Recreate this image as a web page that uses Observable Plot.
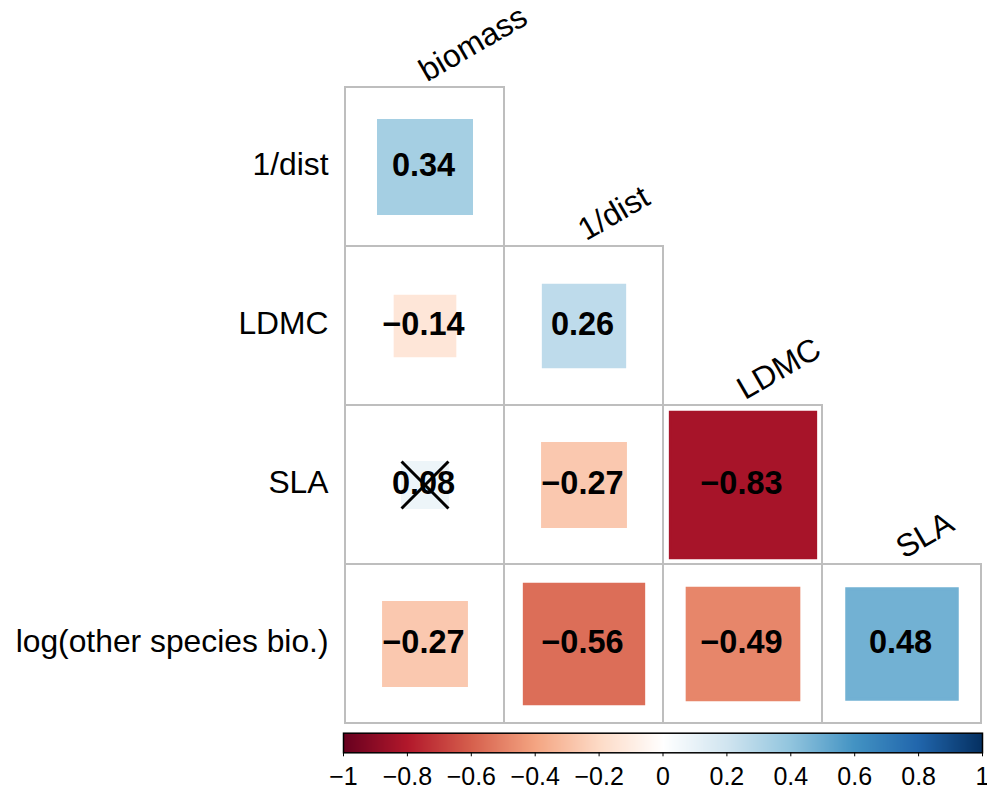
<!DOCTYPE html>
<html>
<head>
<meta charset="utf-8">
<script src="https://cdn.jsdelivr.net/npm/d3@7"></script>
<script src="https://cdn.jsdelivr.net/npm/@observablehq/plot@0.6"></script>
<style>
  html, body { margin: 0; padding: 0; background: white; }
  svg { display: block; }
</style>
</head>
<body>
<div id="chart"></div>
<script>
// ---- data ----
const rowVars = ["1/dist", "LDMC", "SLA", "log(other species bio.)"];
const colVars = ["biomass", "1/dist", "LDMC", "SLA"];
// lower-triangle correlations, one array per row
const corr1dist = [0.34];
const corrLDMC = [-0.14, 0.26];
const corrSLA = [0.08, -0.27, -0.83];
const corrLogOther = [-0.27, -0.56, -0.49, 0.48];
// non-significant flags (crossed out)
const insig1dist = [false];
const insigLDMC = [false, false];
const insigSLA = [true, false, false];
const insigLogOther = [false, false, false, false];

const colorStops = [-1, -0.8, -0.6, -0.4, -0.2, 0, 0.2, 0.4, 0.6, 0.8, 1];
const colorHex = ["#67001F", "#B2182B", "#D6604D", "#F4A582", "#FDDBC7", "#FFFFFF",
                  "#D1E5F0", "#92C5DE", "#4393C3", "#2166AC", "#053061"];
const barTicks = [-1, -0.8, -0.6, -0.4, -0.2, 0, 0.2, 0.4, 0.6, 0.8, 1];
const barTickLabels = ["\u22121", "\u22120.8", "\u22120.6", "\u22120.4", "\u22120.2", "0",
                       "0.2", "0.4", "0.6", "0.8", "1"];

// ---- build table ----
const corrRows = [corr1dist, corrLDMC, corrSLA, corrLogOther];
const insigRows = [insig1dist, insigLDMC, insigSLA, insigLogOther];
const cells = [];
corrRows.forEach((vals, i) => vals.forEach((v, j) => {
  cells.push({row: rowVars[i], col: colVars[j], value: v, insig: insigRows[i][j]});
}));
const colLabels = colVars.map((c, j) => ({col: c, row: rowVars[j], label: c}));

const fmt = v => (v < 0 ? "\u2212" : "") + Math.abs(v).toFixed(2);

// ---- layout ----
const W = 987;
const mainH = 730;
const mTop = 85.5, mBottom = 6.5, mLeft = 343, mRight = 5;
const cellSize = (mainH - mTop - mBottom) / rowVars.length;
const font = "'Liberation Sans', Arial, Helvetica, sans-serif";

const colorScale = {type: "linear", domain: colorStops, range: colorHex, interpolate: "rgb"};

const main = Plot.plot({
  width: W,
  height: mainH,
  marginTop: mTop,
  marginBottom: mBottom,
  marginLeft: mLeft,
  marginRight: mRight,
  x: {type: "band", domain: colVars, padding: 0, axis: null},
  y: {type: "band", domain: rowVars, padding: 0},
  r: {type: "sqrt", domain: [0, 1], range: [0, cellSize / Math.sqrt(Math.PI)]},
  color: colorScale,
  style: {fontFamily: font, background: "white", color: "black"},
  marks: [
    Plot.cell(cells, {x: "col", y: "row", fill: "none", stroke: "#BEBEBE", strokeWidth: 2}),
    Plot.dot(cells, {x: "col", y: "row", r: d => Math.abs(d.value), symbol: "square",
                     fill: "value", stroke: "value", strokeWidth: 3}),
    Plot.text(cells, {x: "col", y: "row", text: d => fmt(d.value), fontWeight: "bold",
                      fontSize: 32.5, fill: "black", dx: -1.5, dy: -1}),
    Plot.dot(cells.filter(d => d.insig), {x: "col", y: "row", symbol: "times", r: 21.4,
                                          stroke: "black", strokeWidth: 3}),
    Plot.axisY({tickSize: 0, tickPadding: 15, fontSize: 31.8, dy: -2, label: null}),
    Plot.text(colLabels, {x: "col", y: "row", text: "label", rotate: -30, textAnchor: "start",
                          lineAnchor: "bottom", fontSize: 31.8, fill: "black",
                          dx: 2, dy: -cellSize / 2 - 5})
  ]
});

const bar = Plot.plot({
  width: W,
  height: 63,
  marginTop: 2.7,
  marginBottom: 40.7,
  marginLeft: mLeft,
  marginRight: mRight,
  x: {domain: [-1, 1]},
  y: {domain: [0, 1], axis: null},
  color: colorScale,
  style: {fontFamily: font, background: "white", color: "black"},
  marks: [
    Plot.raster({x1: -1, x2: 1, y1: 0, y2: 1, fill: (x, y) => x, width: 640, height: 1}),
    Plot.frame({stroke: "black", strokeWidth: 1.5}),
    Plot.axisX({ticks: barTicks, tickFormat: d => barTickLabels[barTicks.indexOf(d)],
                tickSize: 4, tickPadding: 10, fontSize: 25, label: null})
  ]
});

const el = document.getElementById("chart");
el.appendChild(main);
el.appendChild(bar);
</script>
</body>
</html>
